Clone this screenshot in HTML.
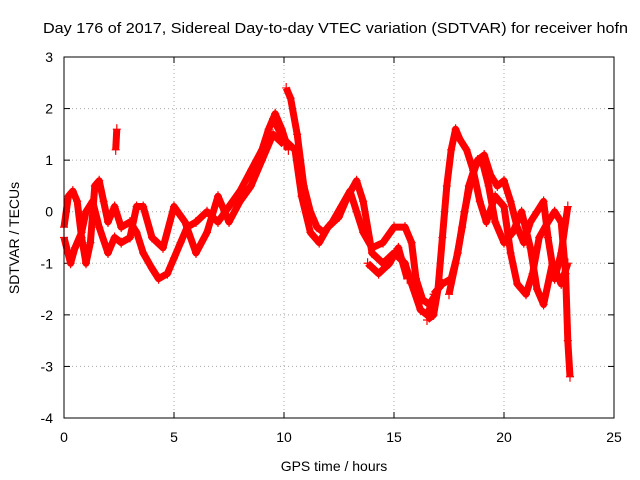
<!DOCTYPE html>
<html><head><meta charset="utf-8"><style>
body{margin:0;background:#fff}
svg{display:block;font-family:"Liberation Sans",sans-serif}
</style></head><body>
<svg id="chart" width="640" height="480">
<text x="43" y="33" font-size="15" textLength="585" lengthAdjust="spacingAndGlyphs" fill="#000">Day 176 of 2017, Sidereal Day-to-day VTEC variation (SDTVAR) for receiver hofn</text>
<text transform="translate(19,238) rotate(-90)" text-anchor="middle" font-size="14">SDTVAR / TECUs</text>
<text x="334" y="471" text-anchor="middle" font-size="14">GPS time / hours</text>
<g id="grid"></g><g id="marks"></g>
<rect x="64" y="57" width="550" height="361" fill="none" stroke="#000"/>
</svg>
<script>
const xTicks=[0,5,10,15,20,25];
const yTicks=[3,2,1,0,-1,-2,-3,-4];
const trackA=[[0,-0.3],[0.2,0.3],[0.4,0.4],[0.6,0.2],[0.8,-0.5],[1.0,-1.0],[1.2,-0.6],[1.4,0.5],[1.6,0.6],[1.8,0.2],[2.0,-0.2],[2.3,0.1],[2.6,-0.3],[3.0,-0.2],[3.3,-0.4],[3.6,-0.8],[4.0,-1.1],[4.3,-1.3],[4.7,-1.2],[5.0,-0.9],[5.3,-0.6],[5.6,-0.3],[6.0,-0.2],[6.5,0.0],[7.0,-0.2],[7.5,0.1],[8.0,0.4],[8.5,0.8],[9.0,1.2],[9.3,1.6],[9.6,1.9],[9.9,1.6],[10.2,1.2]];
const trackB=[[0,-0.5],[0.3,-1.0],[0.5,-0.7],[0.8,-0.4],[1.0,0.0],[1.3,0.2],[1.6,-0.3],[2.0,-0.8],[2.3,-0.5],[2.6,-0.6],[3.0,-0.5],[3.3,0.1],[3.6,0.1],[4.0,-0.5],[4.5,-0.7],[5.0,0.1],[5.5,-0.2],[6.0,-0.8],[6.5,-0.4],[7.0,0.3],[7.5,-0.2],[8.0,0.2],[8.5,0.5],[9.0,1.0],[9.5,1.5],[10,1.3]];
const trackC=[[10.1,2.4],[10.3,2.2],[10.6,1.5],[10.9,0.5],[11.2,0.0],[11.5,-0.3],[11.8,-0.4],[12.2,-0.2],[12.6,0.1],[13.0,0.4],[13.3,0.0],[13.6,-0.4],[14.0,-0.7],[14.5,-0.6],[15.0,-0.3],[15.5,-0.3],[15.8,-0.6],[16.0,-1.3],[16.3,-1.7],[16.6,-1.8],[16.9,-1.6]];
const trackD=[[9.5,1.8],[10,1.4],[10.5,1.2],[10.8,0.3],[11.2,-0.4],[11.6,-0.6],[12.0,-0.3],[12.5,-0.1],[12.9,0.3],[13.3,0.6],[13.6,0.2],[14.0,-0.8],[14.5,-1.0],[15.0,-0.8],[15.5,-1.0],[15.8,-1.4],[16.2,-1.9],[16.5,-2.0],[16.8,-1.7]];
const trackE=[[13.8,-1.0],[14.3,-1.2],[14.8,-1.0],[15.2,-0.7],[15.6,-1.3]];
const trackF=[[16.5,-2.1],[16.8,-2.0],[17.0,-1.5],[17.2,-0.5],[17.4,0.5],[17.6,1.2],[17.8,1.6],[18.0,1.4],[18.3,1.2],[18.6,0.8],[18.9,0.2],[19.2,-0.2],[19.6,0.3],[20.0,0.1],[20.3,-0.8],[20.6,-1.4],[21.0,-1.6],[21.3,-1.2],[21.6,-0.5],[22.0,-0.2],[22.3,0.0],[22.6,-0.2],[22.8,-1.2],[22.9,-2.5],[23.0,-3.2]];
const trackG=[[16.8,-1.6],[17.2,-1.4],[17.6,-1.3],[17.9,-0.8],[18.2,0.0],[18.5,0.6],[18.8,1.0],[19.1,1.1],[19.4,0.7],[19.7,0.5],[20.0,0.6],[20.3,0.2],[20.6,-0.3],[20.9,-0.6],[21.2,-0.2],[21.5,0.0],[21.8,0.2],[22.0,-0.5],[22.3,-1.3],[22.6,-0.8],[22.9,0.1]];
const trackH=[[17.5,-1.6],[17.8,-1.0],[18.1,-0.3],[18.4,0.5],[18.7,0.9],[19.0,1.0],[19.3,0.5],[19.6,-0.2],[20.0,-0.6],[20.4,-0.4],[20.8,0.0],[21.2,-0.7],[21.5,-1.5],[21.8,-1.8],[22.2,-1.0],[22.6,-1.4],[22.9,-1.0]];
const trackSpike=[[2.35,1.2],[2.4,1.6]];
const tracks=[trackA,trackB,trackC,trackD,trackE,trackF,trackG,trackH,trackSpike];

const NS="http://www.w3.org/2000/svg";
const X0=64,X1=614,Y0=418,Y1=57;
const sx=v=>X0+(v-0)/(25-0)*(X1-X0);
const sy=v=>Y0-(v-(-4))/(3-(-4))*(Y0-Y1);
const grid=document.getElementById('grid'),marks=document.getElementById('marks');
function mk(tag,attrs,parent){const e=document.createElementNS(NS,tag);for(const k in attrs)e.setAttribute(k,attrs[k]);parent.appendChild(e);return e;}
xTicks.forEach(t=>{
  const x=sx(t);
  if(t>0&&t<25){const g=mk('line',{x1:x,x2:x,y1:Y1,y2:Y0,stroke:'#aaa','stroke-dasharray':'1,3'},grid);
  
  }
  mk('line',{x1:x,x2:x,y1:Y0,y2:Y0-6,stroke:'#000'},grid);
  mk('line',{x1:x,x2:x,y1:Y1,y2:Y1+6,stroke:'#000'},grid);
  const l=mk('text',{x:x,y:442,'text-anchor':'middle','font-size':14},grid);l.textContent=t;
  
  
});
yTicks.forEach(t=>{
  const y=sy(t);
  if(t<3&&t>-4){const g=mk('line',{x1:X0,x2:X1,y1:y,y2:y,stroke:'#aaa','stroke-dasharray':'1,3'},grid);
  
  }
  mk('line',{x1:X0,x2:X0+6,y1:y,y2:y,stroke:'#000'},grid);
  mk('line',{x1:X1,x2:X1-6,y1:y,y2:y,stroke:'#000'},grid);
  const l=mk('text',{x:53,y:y+5,'text-anchor':'end','font-size':14},grid);l.textContent=t;
  
  
});
tracks.forEach(tr=>{
  const pl=mk('polyline',{points:tr.map(p=>sx(p[0])+','+sy(p[1])).join(' '),fill:'none',stroke:'#f00','stroke-width':7,'stroke-linejoin':'round'},marks);
  
  
  tr.forEach(p=>{
    const x=sx(p[0]),y=sy(p[1]);
    const m=mk('path',{d:`M${x-4},${y}h8M${x},${y-5}v10`,stroke:'#f00','stroke-width':1.2},marks);
    
    
  });
});
</script>
</body></html>
